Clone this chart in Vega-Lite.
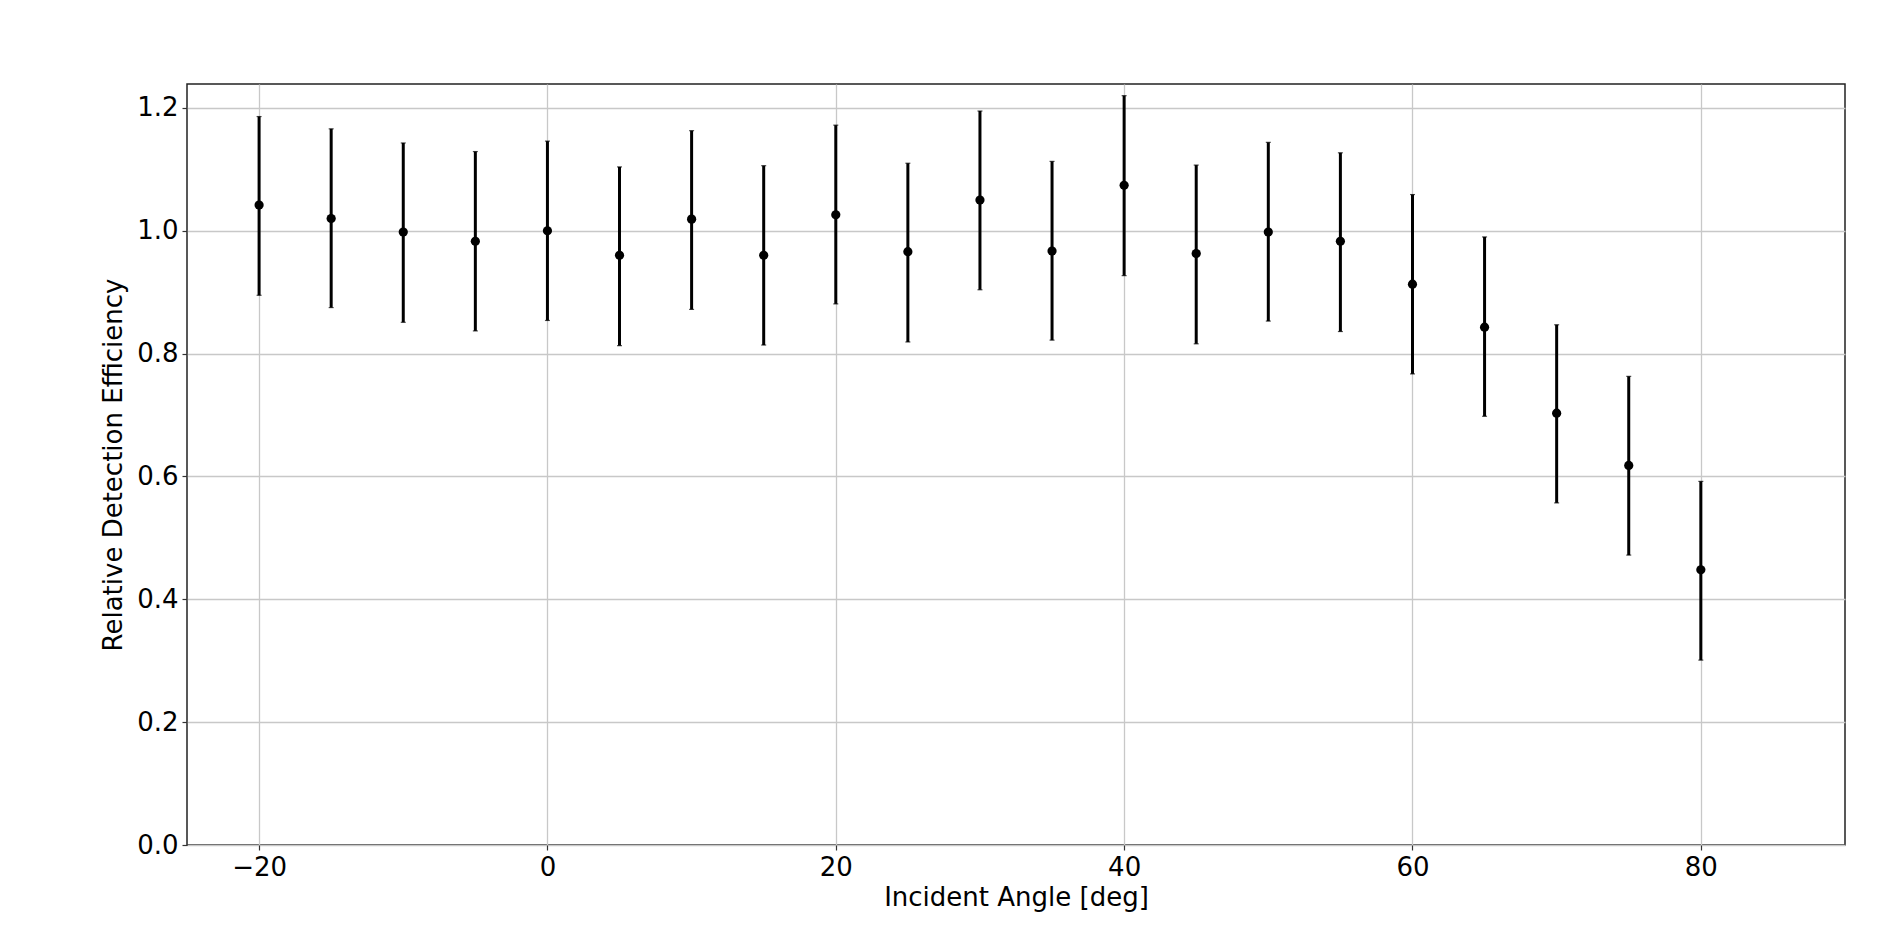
{
  "$schema": "https://vega.github.io/schema/vega-lite/v6.json",
  "width": 1658,
  "height": 761,
  "autosize": "none",
  "padding": {"left": 187, "top": 84, "right": 51, "bottom": 89},
  "background": "white",
  "config": {
    "font": "DejaVu Sans",
    "view": {"stroke": "#222222", "strokeWidth": 1.5},
    "axis": {
      "labelFont": "DejaVu Sans",
      "titleFont": "DejaVu Sans",
      "labelFontSize": 26,
      "titleFontSize": 26,
      "titleFontWeight": "normal",
      "labelColor": "#000000",
      "titleColor": "#000000",
      "domain": false,
      "tickColor": "#333333",
      "tickSize": 5,
      "tickWidth": 1.2,
      "gridColor": "#c8c8c8",
      "gridWidth": 1.3,
      "labelPadding": 4
    }
  },
  "data": {
    "values": [
      {"angle": -20, "eff": 1.042, "lo": 0.895, "hi": 1.186},
      {"angle": -15, "eff": 1.020, "lo": 0.875, "hi": 1.166},
      {"angle": -10, "eff": 0.998, "lo": 0.851, "hi": 1.143},
      {"angle": -5, "eff": 0.983, "lo": 0.837, "hi": 1.129},
      {"angle": 0, "eff": 1.000, "lo": 0.854, "hi": 1.146},
      {"angle": 5, "eff": 0.960, "lo": 0.813, "hi": 1.104},
      {"angle": 10, "eff": 1.019, "lo": 0.872, "hi": 1.163},
      {"angle": 15, "eff": 0.960, "lo": 0.814, "hi": 1.106},
      {"angle": 20, "eff": 1.026, "lo": 0.881, "hi": 1.172},
      {"angle": 25, "eff": 0.966, "lo": 0.819, "hi": 1.110},
      {"angle": 30, "eff": 1.050, "lo": 0.904, "hi": 1.195},
      {"angle": 35, "eff": 0.967, "lo": 0.822, "hi": 1.113},
      {"angle": 40, "eff": 1.074, "lo": 0.927, "hi": 1.220},
      {"angle": 45, "eff": 0.963, "lo": 0.816, "hi": 1.107},
      {"angle": 50, "eff": 0.998, "lo": 0.853, "hi": 1.144},
      {"angle": 55, "eff": 0.983, "lo": 0.836, "hi": 1.127},
      {"angle": 60, "eff": 0.913, "lo": 0.767, "hi": 1.059},
      {"angle": 65, "eff": 0.843, "lo": 0.698, "hi": 0.990},
      {"angle": 70, "eff": 0.703, "lo": 0.557, "hi": 0.847},
      {"angle": 75, "eff": 0.618, "lo": 0.472, "hi": 0.763},
      {"angle": 80, "eff": 0.448, "lo": 0.301, "hi": 0.592}
    ]
  },
  "encoding": {
    "x": {
      "field": "angle",
      "type": "quantitative",
      "scale": {"domain": [-25, 90], "nice": false, "zero": false},
      "axis": {"values": [-20, 0, 20, 40, 60, 80], "title": "Incident Angle [deg]", "titlePadding": 4}
    }
  },
  "layer": [
    {
      "mark": {"type": "rule", "color": "#000000", "strokeWidth": 3},
      "encoding": {
        "y": {
          "field": "lo",
          "type": "quantitative",
          "scale": {"domain": [0, 1.239], "nice": false},
          "axis": {"values": [0, 0.2, 0.4, 0.6, 0.8, 1.0, 1.2], "format": ".1f", "title": "Relative Detection Efficiency", "titlePadding": 10}
        },
        "y2": {"field": "hi"}
      }
    },
    {
      "mark": {"type": "tick", "color": "#000000", "orient": "horizontal", "size": 5, "thickness": 1.2},
      "encoding": {"y": {"field": "lo", "type": "quantitative"}}
    },
    {
      "mark": {"type": "tick", "color": "#000000", "orient": "horizontal", "size": 5, "thickness": 1.2},
      "encoding": {"y": {"field": "hi", "type": "quantitative"}}
    },
    {
      "mark": {"type": "point", "filled": true, "color": "#000000", "opacity": 1, "size": 85, "shape": "circle"},
      "encoding": {"y": {"field": "eff", "type": "quantitative"}}
    }
  ]
}
